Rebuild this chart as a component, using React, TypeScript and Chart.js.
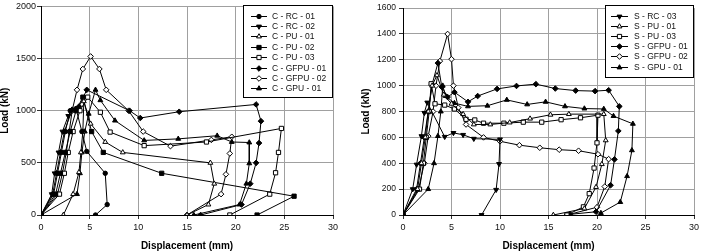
import React, { useEffect, useRef } from 'react';
import { Chart, registerables } from 'chart.js';
import { drawPoint } from 'chart.js/helpers';

Chart.register(...registerables);

// ---------- Data (displacement mm, load kN) ----------
const X_MIN = 0;
const X_MAX = 30;
const X_STEP = 5;
const LEFT_Y_MAX = 2000;
const LEFT_Y_STEP = 500;
const RIGHT_Y_MAX = 1600;
const RIGHT_Y_STEP = 200;
const X_TITLE = 'Displacement (mm)';
const Y_TITLE = 'Load (kN)';

const C_RC_01 = [[0,0],[1.3,200],[1.7,400],[2.1,600],[2.5,800],[3.0,1000],[3.6,1020],[4.2,800],[4.7,610],[6.6,400],[6.8,100],[5.6,0]];
const C_RC_02 = [[0,0],[1.1,200],[1.4,400],[1.8,600],[2.2,800],[2.8,950],[3.1,1000]];
const C_PU_01 = [[2.3,0],[3.3,200],[3.9,410],[4.1,600],[4.3,800],[4.4,1090],[5.1,875],[6.6,700],[8.4,600],[17.4,500],[17.8,300],[17.2,100],[15.0,0]];
const C_PU_02 = [[0,0],[1.5,200],[2.0,400],[2.5,600],[3.0,800],[3.6,1000],[4.3,1130],[5.2,800],[6.4,600],[12.4,400],[26.0,180],[22.2,0]];
const C_PU_03 = [[0,0],[1.9,200],[2.4,400],[2.8,600],[3.3,800],[4.0,1000],[4.8,1130],[6.1,985],[7.1,795],[10.6,665],[17.0,700],[24.7,830],[24.4,600],[24.1,405],[23.5,200],[19.4,0]];
const C_GFPU_01 = [[0,0],[1.2,200],[1.6,400],[2.0,600],[2.4,800],[3.2,1010],[3.9,1040],[4.7,1200],[9.1,1000],[10.2,930],[14.2,990],[22.1,1060],[22.6,900],[22.4,690],[22.1,500],[21.5,300],[20.6,100],[16.4,0]];
const C_GFPU_02 = [[0,0],[1.7,200],[2.2,400],[2.6,600],[2.9,800],[3.2,1000],[3.7,1200],[4.3,1400],[5.1,1520],[6.0,1400],[6.7,1200],[9.0,1000],[10.5,800],[13.3,660],[17.5,720],[19.6,750],[19.4,590],[19.0,390],[18.5,200],[15.0,0]];
const C_GPU_01 = [[0,0],[3.7,200],[4.0,400],[4.2,600],[4.5,800],[4.9,970],[5.6,1200],[6.1,1100],[7.6,905],[10.6,715],[14.1,730],[18.1,760],[19.6,700],[21.4,695],[21.4,495],[21.1,300],[20.4,100],[15.7,0]];

const S_RC_03 = [[0,0],[1.0,200],[1.4,390],[1.9,610],[2.2,790],[2.5,870],[4.3,605],[5.2,635],[6.2,620],[7.3,590],[10.0,585],[9.9,395],[9.6,195],[8.1,0]];
const S_PU_01 = [[0,0],[1.5,200],[1.9,400],[2.3,600],[2.6,800],[3.0,1000],[3.5,1080],[4.2,930],[5.0,860],[6.2,780],[7.3,700],[9.0,700],[11.0,715],[13.1,745],[15.2,775],[17.1,780],[20.7,780],[20.9,577],[20.5,393],[19.9,216],[18.7,50],[15.5,0]];
const S_PU_03 = [[0,0],[1.7,200],[2.1,400],[2.4,600],[2.7,800],[2.9,1015],[3.3,860],[4.3,850],[5.3,820],[6.5,740],[7.4,735],[8.3,710],[10.4,710],[12.4,718],[14.3,718],[16.3,737],[18.3,752],[20.1,772],[20.0,558],[19.7,363],[19.2,165],[18.6,63],[16.9,0]];
const S_GFPU_01 = [[0,0],[1.4,200],[1.8,400],[2.2,600],[2.6,800],[3.0,1010],[3.6,1175],[4.0,990],[4.6,912],[5.3,950],[6.7,875],[7.7,920],[9.7,975],[11.7,998],[13.7,1012],[15.7,978],[17.8,962],[19.8,958],[21.2,965],[22.3,840],[22.2,650],[21.8,430],[21.4,230],[19.9,25],[17.2,5]];
const S_GFPU_02 = [[0,0],[1.6,200],[2.2,400],[2.6,610],[3.1,800],[3.4,1000],[3.8,1190],[4.6,1400],[5.0,1205],[5.2,1000],[5.7,830],[6.5,700],[8.3,600],[10.0,570],[12.0,540],[14.1,520],[16.1,505],[18.1,497],[20.1,470],[21.2,432],[20.8,220],[20.0,60],[16.9,0]];
const S_GPU_01 = [[0,0],[2.6,200],[3.2,400],[3.6,610],[3.9,800],[4.1,1000],[4.4,920],[5.3,865],[6.7,840],[8.7,845],[10.7,890],[12.8,855],[14.7,875],[16.7,840],[18.7,823],[20.7,820],[21.7,765],[23.7,705],[23.6,500],[23.1,300],[22.4,100],[20.4,15]];

const LEFT_LABELS = ['C - RC - 01','C - RC - 02','C - PU - 01','C - PU - 02','C - PU - 03','C - GFPU - 01','C - GFPU - 02','C - GPU - 01'];
const RIGHT_LABELS = ['S - RC - 03','S - PU - 01','S - PU - 03','S - GFPU - 01','S - GFPU - 02','S - GPU - 01'];

// marker: [pointStyle, filled, rotation, radius]
const MARK = {
  circleF: ['circle', true, 0, 2.2],
  triDownF: ['triangle', true, 180, 2.8],
  triO: ['triangle', false, 0, 2.8],
  rectF: ['rect', true, 0, 3.0],
  rectO: ['rect', false, 0, 3.0],
  diaF: ['rectRot', true, 0, 2.8],
  diaO: ['rectRot', false, 0, 2.8],
  triF: ['triangle', true, 0, 2.8],
};

const LEFT_SERIES = [C_RC_01, C_RC_02, C_PU_01, C_PU_02, C_PU_03, C_GFPU_01, C_GFPU_02, C_GPU_01];
const LEFT_MARKS = ['circleF','triDownF','triO','rectF','rectO','diaF','diaO','triF'];
const RIGHT_SERIES = [S_RC_03, S_PU_01, S_PU_03, S_GFPU_01, S_GFPU_02, S_GPU_01];
const RIGHT_MARKS = ['triDownF','triO','rectO','diaF','diaO','triF'];

const FONT = 'Arial, "Liberation Sans", Helvetica, sans-serif';

const boxLegend = {
  id: 'boxLegend',
  afterDraw(chart: any, _args: any, o: any) {
    if (!o || !o.w) return;
    const ctx = chart.ctx;
    ctx.save();
    ctx.fillStyle = '#fff';
    ctx.fillRect(o.x, o.y, o.w, o.h);
    ctx.strokeStyle = '#000';
    ctx.lineWidth = 1;
    ctx.strokeRect(o.x + 0.5, o.y + 0.5, o.w, o.h);
    chart.data.datasets.forEach((ds: any, i: number) => {
      const y = Math.round(o.rowY0 + i * o.rowGap) + 0.5;
      ctx.strokeStyle = '#000';
      ctx.lineWidth = 1;
      ctx.beginPath();
      ctx.moveTo(o.lineX1, y);
      ctx.lineTo(o.lineX2, y);
      ctx.stroke();
      ctx.fillStyle = ds.pointBackgroundColor;
      ctx.strokeStyle = '#000';
      drawPoint(ctx, { pointStyle: ds.pointStyle, rotation: ds.pointRotation || 0, radius: ds.pointRadius, borderWidth: 1 }, (o.lineX1 + o.lineX2) / 2, y);
      ctx.fillStyle = '#111';
      ctx.font = o.font;
      ctx.textBaseline = 'middle';
      ctx.textAlign = 'left';
      ctx.fillText(ds.label, o.textX, y);
    });
    ctx.restore();
  },
};

function makeDatasets(series: number[][][], marks: string[], labels: string[]) {
  return series.map((s, i) => {
    const m = (MARK as any)[marks[i]];
    return {
      label: labels[i],
      data: s.map(([x, y]) => ({ x, y })),
      showLine: true,
      borderColor: '#000',
      borderWidth: 1,
      tension: 0,
      pointStyle: m[0],
      pointBackgroundColor: m[1] ? '#000' : '#fff',
      pointBorderColor: '#000',
      pointBorderWidth: 1,
      pointRotation: m[2],
      pointRadius: m[3],
      pointHoverRadius: m[3],
    };
  });
}

const plain = (v: any) => String(v);

function makeConfig(p: any) {
  return {
    type: 'scatter',
    data: { datasets: makeDatasets(p.series, p.marks, p.labels) },
    plugins: [boxLegend],
    options: {
      animation: false,
      responsive: false,
      events: [],
      layout: { padding: { top: 5, right: p.padRight, left: 0, bottom: 0 } },
      plugins: {
        legend: { display: false },
        tooltip: { enabled: false },
        boxLegend: p.legend,
      },
      scales: {
        x: {
          type: 'linear',
          min: X_MIN,
          max: X_MAX,
          ticks: { stepSize: X_STEP, color: '#111', font: { family: FONT, size: p.tickSize }, padding: 3, maxRotation: 0, callback: plain },
          grid: { color: '#a0a0a0', tickColor: '#333', tickLength: 4, lineWidth: 1 },
          border: { color: '#000', width: 1 },
          title: { display: true, text: X_TITLE, color: '#000', font: { family: FONT, size: p.xTitleSize, weight: 'bold', lineHeight: 1 }, padding: { top: 0, bottom: 1 } },
          afterFit(s: any) { s.height = 37; },
        },
        y: {
          type: 'linear',
          min: 0,
          max: p.yMax,
          ticks: { stepSize: p.yStep, color: '#111', font: { family: FONT, size: p.yTickSize }, padding: p.yTickPad, callback: plain },
          grid: { color: '#a0a0a0', tickColor: '#333', tickLength: 4, lineWidth: 1 },
          border: { color: '#000', width: 1 },
          title: { display: true, text: Y_TITLE, color: '#000', font: { family: FONT, size: p.yTitleSize, weight: 'bold', lineHeight: 1 }, padding: { top: p.yTitlePad, bottom: 0 } },
          afterFit(s: any) { s.width = p.yWidth; },
        },
      },
    },
  };
}

function Panel(props: any) {
  const ref = useRef<HTMLCanvasElement | null>(null);
  useEffect(() => {
    if (!ref.current) return;
    const chart = new Chart(ref.current, makeConfig(props.cfg) as any);
    return () => chart.destroy();
  }, []);
  return (
    <canvas
      ref={ref}
      width={props.w}
      height={252}
      style={{ position: 'absolute', left: props.left, top: 0, width: props.w, height: 252 }}
    />
  );
}

const leftCfg = {
  series: LEFT_SERIES, marks: LEFT_MARKS, labels: LEFT_LABELS,
  yMax: LEFT_Y_MAX, yStep: LEFT_Y_STEP,
  padRight: 19, yWidth: 41, yTickPad: 1, yTitlePad: 0,
  tickSize: 9, yTickSize: 9, xTitleSize: 10, yTitleSize: 10,
  legend: { x: 243, y: 5, w: 89, h: 92, rowY0: 15.5, rowGap: 10.4, lineX1: 251, lineX2: 267, textX: 272, font: `8.5px ${FONT}` },
};

const rightCfg = {
  series: RIGHT_SERIES, marks: RIGHT_MARKS, labels: RIGHT_LABELS,
  yMax: RIGHT_Y_MAX, yStep: RIGHT_Y_STEP,
  padRight: 9, yWidth: 50, yTickPad: 3, yTitlePad: 8,
  tickSize: 9, yTickSize: 8.5, xTitleSize: 10, yTitleSize: 10,
  legend: { x: 252, y: 5, w: 88, h: 72, rowY0: 15.5, rowGap: 10.2, lineX1: 258, lineX2: 275, textX: 281, font: `8.5px ${FONT}` },
};

export default function App() {
  return (
    <div style={{ position: 'absolute', left: 0, top: 0, width: 703, height: 252, background: '#fff', overflow: 'hidden' }}>
      <Panel cfg={leftCfg} left={0} w={352} />
      <Panel cfg={rightCfg} left={353} w={350} />
    </div>
  );
}
